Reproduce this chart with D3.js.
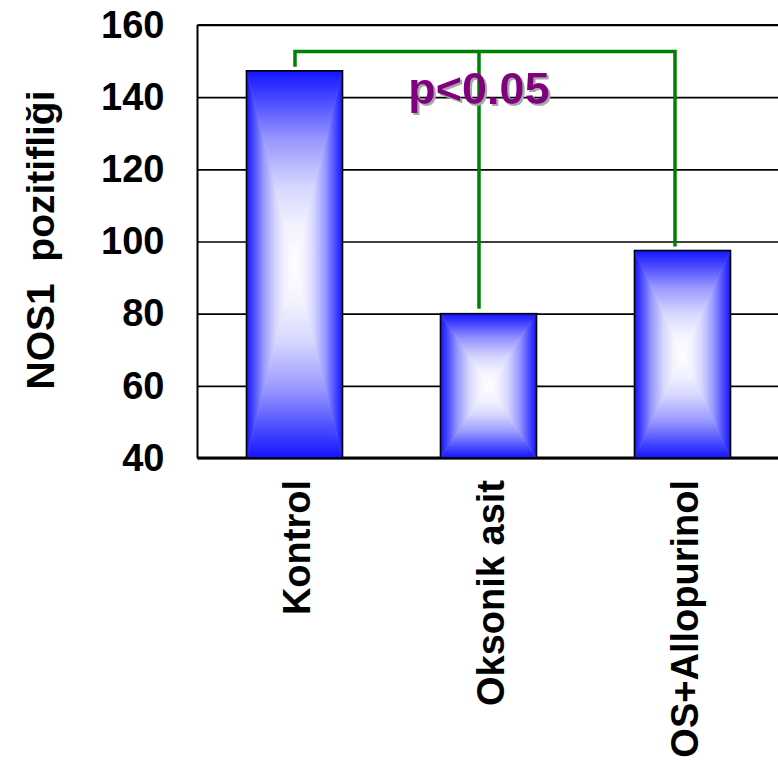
<!DOCTYPE html>
<html>
<head>
<meta charset="utf-8">
<script src="https://cdn.jsdelivr.net/npm/d3@7"></script>
<style>
  html, body { margin: 0; padding: 0; background: #ffffff; }
  svg { display: block; }
  text { font-family: "Liberation Sans", Arial, sans-serif; font-weight: bold; }
</style>
</head>
<body>
<svg id="chart" width="778" height="760"></svg>
<script>
// Group names and NOS1 positivity per group
const categories = ["Kontrol", "Oksonik asit", "OS+Allopurinol"];
const values = [147.3, 80, 97.5];
const yTicks = [40, 60, 80, 100, 120, 140, 160];
const yTitle = "NOS1\u00a0\u00a0pozitifliği";

// Significance bracket: joins Kontrol and OS+Allopurinol, with a drop to Oksonik asit
const bracketGroups = ["Kontrol", "Oksonik asit", "OS+Allopurinol"];
const bracketLevel = 152.8;
const pLabel = "p<0.05";

const svg = d3.select("#chart");
const plotLeft = 197.5, plotTop = 25, plotRight = 779.5, plotBottom = 458;
const W = plotRight - plotLeft, H = plotBottom - plotTop;

const x = d3.scaleBand().domain(categories).range([0, W]).paddingInner(0.505).paddingOuter(0.2525);
const y = d3.scaleLinear().domain([40, 160]).range([H, 0]);

// Rectangular "from centre" fill: four triangles, each shading from blue at its edge to white at the centre
const defs = svg.append("defs");
const ramp = [[0, "#1414ff"], [0.15, "#4a4aff"], [0.35, "#9696ff"], [0.6, "#d6d6ff"], [0.8, "#f2f2ff"], [1, "#ffffff"]];
const sides = {
  top:    { x1: 0, y1: 0, x2: 0, y2: 1 },
  bottom: { x1: 0, y1: 1, x2: 0, y2: 0 },
  left:   { x1: 0, y1: 0, x2: 1, y2: 0 },
  right:  { x1: 1, y1: 0, x2: 0, y2: 0 }
};
Object.entries(sides).forEach(([k, v]) => {
  const lg = defs.append("linearGradient").attr("id", "g-" + k)
    .attr("x1", v.x1).attr("y1", v.y1).attr("x2", v.x2).attr("y2", v.y2);
  ramp.forEach(([o, c]) => lg.append("stop").attr("offset", o).attr("stop-color", c));
});

// Gray drop shadow for the p-value label
const sh = defs.append("filter").attr("id", "shadow").attr("x", "-10%").attr("y", "-20%").attr("width", "130%").attr("height", "150%");
sh.append("feOffset").attr("in", "SourceAlpha").attr("dx", 2).attr("dy", 2).attr("result", "off");
sh.append("feFlood").attr("flood-color", "#a8a8a8").attr("result", "col");
sh.append("feComposite").attr("in", "col").attr("in2", "off").attr("operator", "in").attr("result", "shd");
const shm = sh.append("feMerge");
shm.append("feMergeNode").attr("in", "shd");
shm.append("feMergeNode").attr("in", "SourceGraphic");

const g = svg.append("g").attr("transform", `translate(${plotLeft},${plotTop})`);

// Gridlines and tick labels
const yAxis = d3.axisLeft(y).tickValues(yTicks).tickSizeInner(-W).tickSizeOuter(0).tickPadding(33);
const ya = g.append("g").call(yAxis);
ya.select(".domain").remove();
ya.selectAll(".tick line").attr("stroke", "#000").attr("stroke-width", 1.6);
ya.selectAll(".tick text").attr("fill", "#000").attr("font-size", 38)
  .style("font-family", "'Liberation Sans', Arial, sans-serif").style("font-weight", "bold");

// Frame: left, top and bottom lines
g.append("line").attr("x1", 0).attr("x2", 0).attr("y1", 0).attr("y2", H).attr("stroke", "#000").attr("stroke-width", 2);
g.append("line").attr("x1", 0).attr("x2", W).attr("y1", H).attr("y2", H).attr("stroke", "#000").attr("stroke-width", 3);
g.append("line").attr("x1", 0).attr("x2", W).attr("y1", 0).attr("y2", 0).attr("stroke", "#000").attr("stroke-width", 2);

// Bars
const data = categories.map((c, i) => ({ c, v: values[i] }));
const bars = g.selectAll(".bar").data(data).join("g").attr("class", "bar");
bars.each(function (d) {
  const b = d3.select(this);
  const x0 = x(d.c), x1 = x0 + x.bandwidth(), xm = (x0 + x1) / 2;
  const y0 = y(d.v), y1 = H, ym = (y0 + y1) / 2;
  const tris = {
    top:    [[x0, y0], [x1, y0], [xm, ym]],
    bottom: [[x0, y1], [x1, y1], [xm, ym]],
    left:   [[x0, y0], [x0, y1], [xm, ym]],
    right:  [[x1, y0], [x1, y1], [xm, ym]]
  };
  Object.entries(tris).forEach(([k, pts]) => {
    b.append("polygon")
      .attr("points", pts.map(p => p.join(",")).join(" "))
      .attr("fill", `url(#g-${k})`)
      .attr("stroke", `url(#g-${k})`)
      .attr("stroke-width", 0.6)
      .attr("stroke-linejoin", "round");
  });
  b.append("rect")
    .attr("x", x0).attr("y", y0).attr("width", x.bandwidth()).attr("height", y1 - y0)
    .attr("fill", "none").attr("stroke", "#000").attr("stroke-width", 1.6);
});

// Category labels, rotated
g.selectAll(".cat").data(categories).join("text")
  .attr("class", "cat")
  .attr("transform", c => `translate(${x(c) + x.bandwidth() / 2 + 15},${H + 22}) rotate(-90)`)
  .attr("text-anchor", "end")
  .attr("font-size", 38)
  .attr("fill", "#000")
  .text(c => c);

// Y axis title
svg.append("text")
  .attr("transform", `translate(54,240) rotate(-90)`)
  .attr("text-anchor", "middle")
  .attr("font-size", 39)
  .attr("fill", "#000")
  .text(yTitle);

// Significance bracket
const bx = [Math.round(x(bracketGroups[0]) + x.bandwidth() / 2) + 0.5,
            Math.round(x(bracketGroups[1]) + x.bandwidth() / 2 - 10) + 0.5,
            Math.round(x(bracketGroups[2]) + x.bandwidth() / 2 - 8) + 0.5];
const bv = bracketGroups.map(c => values[categories.indexOf(c)]);
const yb = Math.round(y(bracketLevel)) + 0.5;
const green = "#008000";
const br = g.append("g").attr("stroke", green).attr("stroke-width", 3.5).attr("fill", "none");
br.append("path").attr("d", `M${bx[0]},${y(bv[0]) - 4}V${yb}H${bx[2]}V${y(bv[2]) - 4}`);
br.append("line").attr("x1", bx[1]).attr("x2", bx[1]).attr("y1", yb).attr("y2", y(bv[1]) - 5);

// p-value label
g.append("text").attr("x", bx[1]).attr("y", y(bracketLevel) + 53).attr("text-anchor", "middle")
  .attr("font-size", 45).attr("fill", "#800080").attr("filter", "url(#shadow)").text(pLabel);
</script>
</body>
</html>
